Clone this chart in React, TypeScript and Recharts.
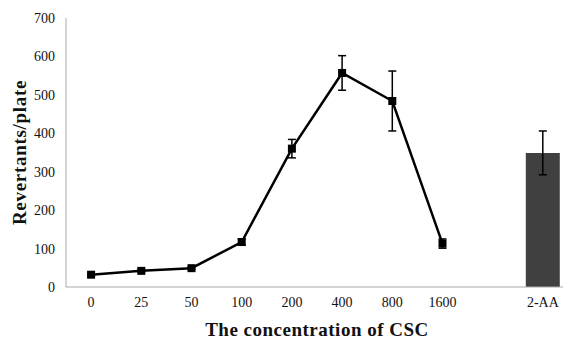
import { ComposedChart, Line, Bar, XAxis, YAxis, ErrorBar } from 'recharts';

const categories = ['0', '25', '50', '100', '200', '400', '800', '1600', '', '2-AA'];
const revertants = [32, 42, 49, 117, 360, 557, 484, 113, null, null];
const revertantsErr = [3, 3, 3, 8, 24, 45, 78, 12, null, null];
const controlValues = [null, null, null, null, null, null, null, null, null, 349];
const controlErr = [null, null, null, null, null, null, null, null, null, 57];
const yTicks = [0, 100, 200, 300, 400, 500, 600, 700];

const data = categories.map((c, i) => ({
  name: c,
  value: revertants[i],
  err: revertantsErr[i],
  control: controlValues[i],
  controlErr: controlErr[i],
}));

const font = '"Liberation Serif", "DejaVu Serif", serif';

// square markers like the original
const SquareDot = (props: any) => {
  const { cx, cy, value } = props;
  if (value == null || cx == null || cy == null) return <g />;
  return <rect x={cx - 4} y={cy - 4} width={8} height={8} fill="#000" />;
};

export default function App() {
  return (
    <div style={{ position: 'absolute', left: 0, top: 0, width: 563, height: 340, overflow: 'hidden', background: '#fff' }}>
      <ComposedChart width={568} height={340} data={data} margin={{ top: 18, right: 0, bottom: 0, left: 0 }}>
        <XAxis
          dataKey="name"
          height={53}
          interval={0}
          axisLine={{ stroke: '#aaa' }}
          tickLine={false}
          tickMargin={4}
          tick={{ fill: '#111', fontSize: 14, fontFamily: font }}
          label={{ value: 'The concentration of CSC', position: 'insideBottom', offset: 4, fill: '#111', fontSize: 19, fontWeight: 'bold', fontFamily: font, style: { letterSpacing: 0.5 } }}
        />
        <YAxis
          width={66}
          domain={[0, 700]}
          ticks={yTicks}
          axisLine={{ stroke: '#aaa' }}
          tickLine={false}
          tickMargin={5}
          tick={{ fill: '#111', fontSize: 14, fontFamily: font }}
          label={{ value: 'Revertants/plate', angle: -90, position: 'insideLeft', offset: 19, fill: '#111', fontSize: 19, fontWeight: 'bold', fontFamily: font, style: { textAnchor: 'middle', letterSpacing: 0.7 } }}
        />
        <Bar dataKey="control" fill="#404040" barSize={34} isAnimationActive={false}>
          <ErrorBar dataKey="controlErr" width={4} stroke="#000" strokeWidth={1.5} />
        </Bar>
        <Line
          dataKey="value"
          stroke="#000"
          strokeWidth={2.5}
          dot={<SquareDot />}
          activeDot={false}
          isAnimationActive={false}
        >
          <ErrorBar dataKey="err" width={4} stroke="#000" strokeWidth={1.5} />
        </Line>
      </ComposedChart>
    </div>
  );
}
